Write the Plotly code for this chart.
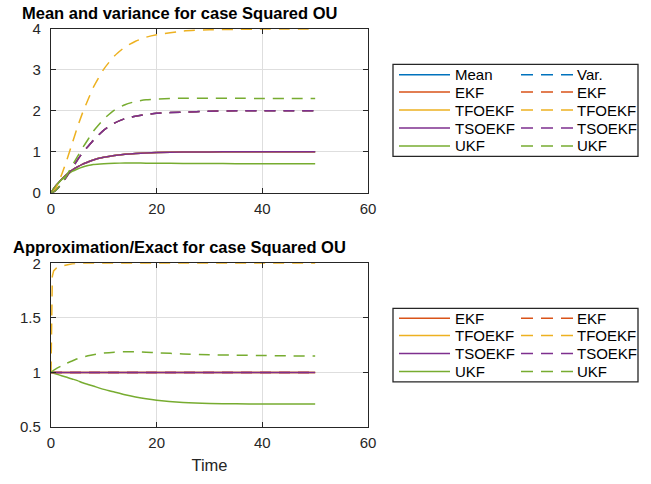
import plotly.graph_objects as go

# ---------------- data ----------------
t = [0, 0.1, 0.25, 0.5, 1, 2, 3, 4, 5, 6, 7, 8, 10, 12, 14, 16, 18, 20, 25, 30, 35, 40, 45, 50]

exact_mean = [0, 0.02, 0.05, 0.10, 0.18, 0.33, 0.45, 0.55, 0.63, 0.70, 0.75, 0.80,
              0.865, 0.91, 0.94, 0.96, 0.973, 0.982, 0.993, 0.997, 0.999, 1.0, 1.0, 1.0]
exact_var = [0, 0.001, 0.005, 0.02, 0.065, 0.22, 0.40, 0.60, 0.80, 0.98, 1.13, 1.28,
             1.53, 1.70, 1.81, 1.87, 1.91, 1.94, 1.97, 1.99, 2.0, 2.0, 2.0, 2.0]

ekf_mean = exact_mean
tfoekf_mean = exact_mean
tsoekf_mean = exact_mean
ukf_mean = [0, 0.02, 0.05, 0.10, 0.177, 0.32, 0.43, 0.52, 0.58, 0.63, 0.665, 0.69,
            0.71, 0.72, 0.725, 0.725, 0.722, 0.72, 0.715, 0.712, 0.71, 0.71, 0.71, 0.71]

ekf_var = exact_var
tfoekf_var = [0, 0.002, 0.01, 0.04, 0.13, 0.44, 0.80, 1.20, 1.60, 1.96, 2.27, 2.57,
              3.02, 3.34, 3.56, 3.70, 3.80, 3.86, 3.95, 3.98, 3.99, 4.0, 4.0, 4.0]
tsoekf_var = exact_var
ukf_var = [0, 0.001, 0.005, 0.02, 0.067, 0.23, 0.43, 0.66, 0.88, 1.10, 1.30, 1.50,
           1.80, 2.02, 2.15, 2.23, 2.27, 2.29, 2.31, 2.31, 2.31, 2.30, 2.30, 2.30]

ones = [1, 1, 1, 1, 1, 1, 1, 1, 1, 1, 1, 1, 1, 1, 1, 1, 1, 1, 1, 1, 1, 1, 1, 1]
ekf_mean_ratio = ones
tfoekf_mean_ratio = ones
tsoekf_mean_ratio = ones
ukf_mean_ratio = [1.0, 1.0, 0.998, 0.993, 0.985, 0.97, 0.955, 0.94, 0.925, 0.905, 0.89, 0.875,
                  0.845, 0.82, 0.795, 0.775, 0.758, 0.745, 0.725, 0.715, 0.712, 0.71, 0.71, 0.71]
ekf_var_ratio = ones
tfoekf_var_ratio = [1.0, 1.70, 1.88, 1.93, 1.955, 1.975, 1.988, 1.995, 2.0, 2.0, 2.0, 2.0,
                    2.0, 2.0, 2.0, 2.0, 2.0, 2.0, 2.0, 2.0, 2.0, 2.0, 2.0, 2.0]
tsoekf_var_ratio = ones
ukf_var_ratio = [1.0, 1.005, 1.01, 1.02, 1.035, 1.06, 1.085, 1.105, 1.125, 1.14, 1.152, 1.162,
                 1.177, 1.186, 1.19, 1.19, 1.186, 1.18, 1.17, 1.162, 1.158, 1.155, 1.152, 1.15]

top_title = "Mean and variance for case Squared OU"
bottom_title = "Approximation/Exact for case Squared OU"
x_label = "Time"
x_ticks = [0, 20, 40, 60]
top_y_ticks = [0, 1, 2, 3, 4]
bottom_y_ticks = [0.5, 1, 1.5, 2]
bottom_y_ticklabels = ["0.5", "1", "1.5", "2"]

top_legend_left = ["Mean", "EKF", "TFOEKF", "TSOEKF", "UKF"]
top_legend_right = ["Var.", "EKF", "TFOEKF", "TSOEKF", "UKF"]
bottom_legend_left = ["EKF", "TFOEKF", "TSOEKF", "UKF"]
bottom_legend_right = ["EKF", "TFOEKF", "TSOEKF", "UKF"]

# ---------------- styling ----------------
BLUE, ORANGE, YELLOW, PURPLE, GREEN = "#0072BD", "#D95319", "#EDB120", "#7E2F8E", "#77AC30"
FONT = "Liberation Sans, Arial, Helvetica, sans-serif"
AX = "#262626"
GRID = "#dedede"
LW = 1.5
DASH = "11px,8px"

W, H = 651, 484
L, R, T, B = 51, 368, 29, 435  # plot-area pixel box


def px(xp):
    return (xp - L) / (R - L)


def py(yp):
    return (B - yp) / (B - T)


fig = go.Figure()


def add(x, y, color, dash, xa, ya, shape="spline"):
    fig.add_trace(go.Scatter(
        x=x, y=y, mode="lines", xaxis=xa, yaxis=ya, showlegend=False, hoverinfo="skip",
        line=dict(color=color, width=LW, dash=dash, shape=shape,
                  smoothing=0.6 if shape == "spline" else None),
    ))


# top: means (solid), then variances (dashed)
add(t, exact_mean, BLUE, "solid", "x", "y")
add(t, ekf_mean, ORANGE, "solid", "x", "y")
add(t, tfoekf_mean, YELLOW, "solid", "x", "y")
add(t, tsoekf_mean, PURPLE, "solid", "x", "y")
add(t, ukf_mean, GREEN, "solid", "x", "y")
add(t, exact_var, BLUE, DASH, "x", "y")
add(t, ekf_var, ORANGE, DASH, "x", "y")
add(t, tfoekf_var, YELLOW, DASH, "x", "y")
add(t, tsoekf_var, PURPLE, DASH, "x", "y")
add(t, ukf_var, GREEN, DASH, "x", "y")

# bottom: ratios
add(t, ekf_mean_ratio, ORANGE, "solid", "x2", "y2", "linear")
add(t, tfoekf_mean_ratio, YELLOW, "solid", "x2", "y2", "linear")
add(t, tsoekf_mean_ratio, PURPLE, "solid", "x2", "y2", "linear")
add(t, ukf_mean_ratio, GREEN, "solid", "x2", "y2")
add(t, ekf_var_ratio, ORANGE, DASH, "x2", "y2", "linear")
add(t, tfoekf_var_ratio, YELLOW, DASH, "x2", "y2", "linear")
add(t, tsoekf_var_ratio, PURPLE, DASH, "x2", "y2", "linear")
add(t, ukf_var_ratio, GREEN, DASH, "x2", "y2")

top_dom = [py(196), 1.0]
bot_dom = [0.0, py(268)]

axis_common = dict(
    showline=True, linecolor=AX, linewidth=1.3, mirror="ticks", ticks="inside",
    ticklen=5, tickcolor=AX, tickwidth=1, showgrid=True, gridcolor=GRID, gridwidth=1,
    zeroline=False, tickfont=dict(family=FONT, size=15, color=AX),
)

fig.update_layout(
    width=W, height=H, margin=dict(l=L, r=W - R, t=T, b=H - B),
    paper_bgcolor="white", plot_bgcolor="white", showlegend=False,
    font=dict(family=FONT, color=AX),
    xaxis=dict(axis_common, domain=[0, 1], range=[0, 60], tickvals=x_ticks, anchor="y",
               ticklabelstandoff=2),
    yaxis=dict(axis_common, domain=top_dom, range=[0, 4], tickvals=top_y_ticks, anchor="x",
               ticklabelstandoff=6),
    xaxis2=dict(axis_common, domain=[0, 1], range=[0, 60], tickvals=x_ticks, anchor="y2",
                ticklabelstandoff=2,
                title=dict(text=x_label, font=dict(family=FONT, size=16.5, color=AX), standoff=9)),
    yaxis2=dict(axis_common, domain=bot_dom, range=[0.5, 2], tickvals=bottom_y_ticks,
                ticktext=bottom_y_ticklabels, anchor="x2", ticklabelstandoff=6),
)

annotations = []
shapes = []

# titles
for text, yc in [(top_title, 12.5), (bottom_title, 251.5)]:
    annotations.append(dict(
        text="<b>" + text + "</b>", xref="paper", yref="paper", x=px(179), y=py(yc),
        xanchor="center", yanchor="middle", showarrow=False,
        font=dict(family=FONT, size=16.5, color="black"),
    ))


def legend_block(box, rows, left_labels, right_labels, left_colors, right_colors):
    x0, y0, x1, y1 = box
    shapes.append(dict(type="rect", xref="paper", yref="paper", x0=px(x0), x1=px(x1),
                       y0=py(y1), y1=py(y0), line=dict(color=AX, width=1.3),
                       fillcolor="white", layer="above"))
    for i, yc in enumerate(rows):
        shapes.append(dict(type="line", xref="paper", yref="paper", x0=px(399), x1=px(450),
                           y0=py(yc), y1=py(yc), line=dict(color=left_colors[i], width=LW),
                           layer="above"))
        shapes.append(dict(type="line", xref="paper", yref="paper", x0=px(521), x1=px(573),
                           y0=py(yc), y1=py(yc),
                           line=dict(color=right_colors[i], width=LW, dash="12px,8px"),
                           layer="above"))
        annotations.append(dict(text=left_labels[i], xref="paper", yref="paper", x=px(453),
                                y=py(yc), xanchor="left", yanchor="middle", showarrow=False,
                                font=dict(family=FONT, size=15, color="black")))
        annotations.append(dict(text=right_labels[i], xref="paper", yref="paper", x=px(575),
                                y=py(yc), xanchor="left", yanchor="middle", showarrow=False,
                                font=dict(family=FONT, size=15, color="black")))


legend_block((393, 65, 638, 159), [75.7, 93.3, 111.7, 130, 148.3],
             top_legend_left, top_legend_right,
             [BLUE, ORANGE, YELLOW, PURPLE, GREEN], [BLUE, ORANGE, YELLOW, PURPLE, GREEN])
legend_block((393, 314, 638, 389), [324, 341.7, 360, 378.3],
             bottom_legend_left, bottom_legend_right,
             [ORANGE, YELLOW, PURPLE, GREEN], [ORANGE, YELLOW, PURPLE, GREEN])

fig.update_layout(annotations=annotations, shapes=shapes)
# the page body has a default 8px margin; remove it so the figure fills the window
fig.write_html("out.html", config={"displayModeBar": False},
               post_script="document.body.style.margin='0px';")
